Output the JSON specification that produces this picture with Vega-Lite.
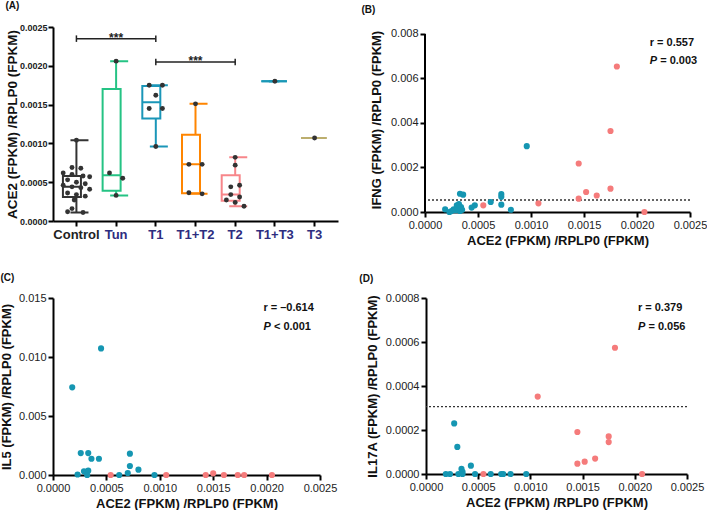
{
  "$schema": "https://vega.github.io/schema/vega-lite/v6.json",
  "background": "white",
  "padding": {"left": 0, "top": 0, "right": 0, "bottom": 0},
  "config": {
    "view": {"stroke": null},
    "font": "Liberation Sans",
    "axis": {"domainColor": "#000", "domainWidth": 2, "tickColor": "#000", "tickWidth": 2, "tickSize": 5, "grid": false, "labelFont": "Liberation Sans", "titleFont": "Liberation Sans", "labelColor": "#222", "titleColor": "#111", "titleFontWeight": "bold", "titleFontSize": 13, "labelFontSize": 11, "labelPadding": 2, "zindex": 1, "labelFlush": false, "labelOverlap": false},
    "title": {"anchor": "start", "frame": "bounds", "fontSize": 10, "fontWeight": "bold", "color": "#111", "font": "Liberation Sans"}
  },
  "datasets": {
    "box": [
      {"g": "Control", "lo": 0.00011, "q1": 0.00031, "med": 0.00044, "q3": 0.00058, "hi": 0.00104},
      {"g": "Tun", "lo": 0.00033, "q1": 0.00039, "med": 0.00059, "q3": 0.0017, "hi": 0.00206},
      {"g": "T1", "lo": 0.00096, "q1": 0.00132, "med": 0.00153, "q3": 0.00174, "hi": 0.00175},
      {"g": "T1+T2", "lo": 0.00035, "q1": 0.000357, "med": 0.00073, "q3": 0.00111, "hi": 0.00151},
      {"g": "T2", "lo": 0.00019, "q1": 0.00026, "med": 0.00034, "q3": 0.00059, "hi": 0.00082},
      {"g": "T1+T3", "lo": 0.0018, "q1": 0.0018, "med": 0.0018, "q3": 0.0018, "hi": 0.0018},
      {"g": "T3", "lo": 0.00107, "q1": 0.00107, "med": 0.00107, "q3": 0.00107, "hi": 0.00107}
    ],
    "dots": [
      {"g": "Control", "v": 0.00104, "k": 0},
      {"g": "Control", "v": 0.00069, "k": -1},
      {"g": "Control", "v": 0.00068, "k": 1},
      {"g": "Control", "v": 0.00062, "k": -3},
      {"g": "Control", "v": 0.0006, "k": -1},
      {"g": "Control", "v": 0.00058, "k": 1.5},
      {"g": "Control", "v": 0.00057, "k": 3},
      {"g": "Control", "v": 0.00053, "k": -2},
      {"g": "Control", "v": 0.0005, "k": 0},
      {"g": "Control", "v": 0.00048, "k": 2},
      {"g": "Control", "v": 0.00046, "k": -3},
      {"g": "Control", "v": 0.00044, "k": -1},
      {"g": "Control", "v": 0.00043, "k": 1},
      {"g": "Control", "v": 0.00041, "k": 3},
      {"g": "Control", "v": 0.00036, "k": -2},
      {"g": "Control", "v": 0.00034, "k": 0},
      {"g": "Control", "v": 0.00032, "k": 2},
      {"g": "Control", "v": 0.00027, "k": -0.5},
      {"g": "Control", "v": 0.00016, "k": -1},
      {"g": "Control", "v": 0.00012, "k": -2},
      {"g": "Control", "v": 0.00011, "k": 1.5},
      {"g": "Tun", "v": 0.00206, "k": 0},
      {"g": "Tun", "v": 0.00062, "k": -1.5},
      {"g": "Tun", "v": 0.00055, "k": 1.5},
      {"g": "Tun", "v": 0.00033, "k": 0},
      {"g": "T1", "v": 0.00175, "k": -1.5},
      {"g": "T1", "v": 0.00175, "k": 1.5},
      {"g": "T1", "v": 0.00162, "k": 0},
      {"g": "T1", "v": 0.00145, "k": -1.5},
      {"g": "T1", "v": 0.00145, "k": 1.5},
      {"g": "T1", "v": 0.00096, "k": 0},
      {"g": "T1+T2", "v": 0.00151, "k": 0},
      {"g": "T1+T2", "v": 0.00073, "k": -1.5},
      {"g": "T1+T2", "v": 0.00073, "k": 1.5},
      {"g": "T1+T2", "v": 0.000365, "k": -1.5},
      {"g": "T1+T2", "v": 0.00035, "k": 1.5},
      {"g": "T2", "v": 0.00082, "k": 0},
      {"g": "T2", "v": 0.00072, "k": 0},
      {"g": "T2", "v": 0.00046, "k": 1},
      {"g": "T2", "v": 0.00044, "k": -1},
      {"g": "T2", "v": 0.00034, "k": -1},
      {"g": "T2", "v": 0.00031, "k": 1},
      {"g": "T2", "v": 0.00027, "k": -2},
      {"g": "T2", "v": 0.00024, "k": 0},
      {"g": "T2", "v": 0.00019, "k": 2},
      {"g": "T1+T3", "v": 0.0018, "k": 0},
      {"g": "T3", "v": 0.00107, "k": 0}
    ],
    "sig": [
      {"from": "Control", "to": "T1", "mid": "Tun", "y": 0.00235, "lo": 0.002308, "hi": 0.002392, "t": "***"},
      {"from": "T1", "to": "T2", "mid": "T1+T2", "y": 0.00205, "lo": 0.002008, "hi": 0.002092, "t": "***"}
    ],
    "ifng": [
      {"ace2": 0.00181, "val": 0.00654, "set": "2"},
      {"ace2": 0.00175, "val": 0.00364, "set": "2"},
      {"ace2": 0.00145, "val": 0.00218, "set": "2"},
      {"ace2": 0.00175, "val": 0.00105, "set": "2"},
      {"ace2": 0.00152, "val": 0.0009, "set": "2"},
      {"ace2": 0.00162, "val": 0.00074, "set": "2"},
      {"ace2": 0.00145, "val": 0.0006, "set": "2"},
      {"ace2": 0.00107, "val": 0.00039, "set": "2"},
      {"ace2": 0.00055, "val": 0.0003, "set": "2"},
      {"ace2": 0.00207, "val": 0.0, "set": "2"},
      {"ace2": 0.00096, "val": 0.00296, "set": "1"},
      {"ace2": 0.00033, "val": 0.00082, "set": "1"},
      {"ace2": 0.00036, "val": 0.00078, "set": "1"},
      {"ace2": 0.00072, "val": 0.0008, "set": "1"},
      {"ace2": 0.00072, "val": 0.00068, "set": "1"},
      {"ace2": 0.00062, "val": 0.00045, "set": "1"},
      {"ace2": 0.00072, "val": 0.00033, "set": "1"},
      {"ace2": 0.00047, "val": 0.0003, "set": "1"},
      {"ace2": 0.00044, "val": 0.0002, "set": "1"},
      {"ace2": 0.00081, "val": 0.0001, "set": "1"},
      {"ace2": 0.00019, "val": 0.00012, "set": "1"},
      {"ace2": 0.00023, "val": 0.0, "set": "1"},
      {"ace2": 0.00027, "val": 0.00012, "set": "1"},
      {"ace2": 0.0003, "val": 0.0003, "set": "1"},
      {"ace2": 0.00032, "val": 0.00036, "set": "1"},
      {"ace2": 0.00034, "val": 0.00022, "set": "1"},
      {"ace2": 0.00033, "val": 0.00005, "set": "1"},
      {"ace2": 0.00029, "val": 0.00008, "set": "1"},
      {"ace2": 0.00035, "val": 0.0001, "set": "1"},
      {"ace2": 0.00025, "val": 0.00004, "set": "1"},
      {"ace2": 0.00031, "val": 0.00015, "set": "1"}
    ],
    "il5": [
      {"ace2": 0.00045, "val": 0.01073, "set": "1"},
      {"ace2": 0.00018, "val": 0.00743, "set": "1"},
      {"ace2": 0.00026, "val": 0.00186, "set": "1"},
      {"ace2": 0.00033, "val": 0.00186, "set": "1"},
      {"ace2": 0.00036, "val": 0.00138, "set": "1"},
      {"ace2": 0.00043, "val": 0.00138, "set": "1"},
      {"ace2": 0.00072, "val": 0.00181, "set": "1"},
      {"ace2": 0.00072, "val": 0.00076, "set": "1"},
      {"ace2": 0.0008, "val": 0.00045, "set": "1"},
      {"ace2": 0.00029, "val": 0.00031, "set": "1"},
      {"ace2": 0.00033, "val": 0.00037, "set": "1"},
      {"ace2": 0.00032, "val": 0.0, "set": "1"},
      {"ace2": 0.00023, "val": 0.00004, "set": "1"},
      {"ace2": 0.0007, "val": 0.00017, "set": "1"},
      {"ace2": 0.00062, "val": 0.0, "set": "1"},
      {"ace2": 0.00095, "val": 0.0, "set": "1"},
      {"ace2": 0.00054, "val": 0.0, "set": "2"},
      {"ace2": 0.00106, "val": 0.0, "set": "2"},
      {"ace2": 0.00143, "val": 0.0, "set": "2"},
      {"ace2": 0.0015, "val": 0.00014, "set": "2"},
      {"ace2": 0.0016, "val": 0.0, "set": "2"},
      {"ace2": 0.00173, "val": 0.0, "set": "2"},
      {"ace2": 0.00179, "val": 0.0, "set": "2"},
      {"ace2": 0.00205, "val": 0.0, "set": "2"}
    ],
    "il17a": [
      {"ace2": 0.00181, "val": 0.000574, "set": "2"},
      {"ace2": 0.00107, "val": 0.000352, "set": "2"},
      {"ace2": 0.00145, "val": 0.000191, "set": "2"},
      {"ace2": 0.00175, "val": 0.000171, "set": "2"},
      {"ace2": 0.00175, "val": 0.000145, "set": "2"},
      {"ace2": 0.00162, "val": 0.00007, "set": "2"},
      {"ace2": 0.00152, "val": 0.000056, "set": "2"},
      {"ace2": 0.00145, "val": 0.000047, "set": "2"},
      {"ace2": 0.00055, "val": 0.0, "set": "2"},
      {"ace2": 0.00207, "val": 0.0, "set": "2"},
      {"ace2": 0.00027, "val": 0.00023, "set": "1"},
      {"ace2": 0.0003, "val": 0.000123, "set": "1"},
      {"ace2": 0.00034, "val": 0.000023, "set": "1"},
      {"ace2": 0.00043, "val": 0.000038, "set": "1"},
      {"ace2": 0.00035, "val": 0.00001, "set": "1"},
      {"ace2": 0.00019, "val": 0.0, "set": "1"},
      {"ace2": 0.00023, "val": 0.0, "set": "1"},
      {"ace2": 0.00031, "val": 0.0, "set": "1"},
      {"ace2": 0.00035, "val": 0.0, "set": "1"},
      {"ace2": 0.00047, "val": 0.0, "set": "1"},
      {"ace2": 0.00062, "val": 0.0, "set": "1"},
      {"ace2": 0.00072, "val": 0.0, "set": "1"},
      {"ace2": 0.00074, "val": 0.0, "set": "1"},
      {"ace2": 0.00081, "val": 0.0, "set": "1"},
      {"ace2": 0.00096, "val": 0.0, "set": "1"}
    ],
    "annB": [{"x": 0.00212, "yr": 0.0076, "yp": 0.00677, "r": "r = 0.557", "p": "= 0.003", "thr": 0.00054, "x0": 0, "y0": 0, "y1": 0.008}],
    "annC": [{"x": 0.00197, "yr": 0.01415, "yp": 0.01254, "r": "r = –0.614", "p": "< 0.001"}],
    "annD": [{"x": 0.00203, "yr": 0.000753, "yp": 0.000666, "r": "r = 0.379", "p": "= 0.056", "thr": 0.000306}]
  },
  "spacing": 26,
  "vconcat": [
    {
      "columns": 2,
      "align": "none",
      "spacing": 23,
      "concat": [
        {
          "title": {"text": "(A)", "offset": 9.5, "dy": -3},
          "width": 285,
          "height": 194,
          "encoding": {
            "x": {"field": "g", "type": "nominal", "sort": ["Control", "Tun", "T1", "T1+T2", "T2", "T1+T3", "T3"],
              "scale": {"domain": ["Control", "Tun", "T1", "T1+T2", "T2", "T1+T3", "T3"], "paddingInner": 0, "paddingOuter": 0.09},
              "axis": {"title": null, "labelAngle": 0, "labelFontSize": 13, "labelFontWeight": "bold", "labelPadding": 2,
                "labelColor": {"condition": {"test": "datum.value === 'Control'", "value": "#222222"}, "value": "#2e2d7f"}}}
          },
          "layer": [
            {
              "data": {"name": "box"},
              "mark": {"type": "rule", "strokeWidth": 2},
              "encoding": {
                "y": {"field": "lo", "type": "quantitative", "scale": {"domain": [0, 0.0025], "nice": false},
                  "axis": {"title": "ACE2 (FPKM) /RPLP0 (FPKM)", "values": [0, 0.0005, 0.001, 0.0015, 0.002, 0.0025], "format": ".4f", "labelFontSize": 9, "labelFontWeight": "bold", "labelPadding": 1, "titlePadding": 0, "titleFontSize": 13.5, "labelOverlap": false, "labelFlush": false}},
                "y2": {"field": "hi"},
                "stroke": {"field": "g", "type": "nominal", "legend": null,
                  "scale": {"domain": ["Control", "Tun", "T1", "T1+T2", "T2", "T1+T3", "T3"], "range": ["#333333", "#25c384", "#1a96b8", "#ff8500", "#f7868a", "#1a98b6", "#bcae6e"]}}
              }
            },
            {
              "data": {"name": "box"},
              "mark": {"type": "bar", "fill": "white", "strokeWidth": 2, "width": {"band": 0.68}},
              "encoding": {
                "y": {"field": "q1", "type": "quantitative",
                  "axis": {"title": "ACE2 (FPKM) /RPLP0 (FPKM)", "values": [0, 0.0005, 0.001, 0.0015, 0.002, 0.0025], "format": ".4f", "labelFontSize": 9, "labelFontWeight": "bold", "labelPadding": 1, "titlePadding": 0, "titleFontSize": 13.5, "labelOverlap": false, "labelFlush": false}},
                "y2": {"field": "q3"},
                "stroke": {"field": "g", "type": "nominal", "legend": null}
              }
            },
            {
              "data": {"name": "box"},
              "mark": {"type": "bar", "fill": "transparent", "strokeWidth": 2, "width": {"band": 0.68}},
              "encoding": {
                "y": {"field": "med", "type": "quantitative",
                  "axis": {"title": "ACE2 (FPKM) /RPLP0 (FPKM)", "values": [0, 0.0005, 0.001, 0.0015, 0.002, 0.0025], "format": ".4f", "labelFontSize": 9, "labelFontWeight": "bold", "labelPadding": 1, "titlePadding": 0, "titleFontSize": 13.5, "labelOverlap": false, "labelFlush": false}},
                "y2": {"field": "med"},
                "stroke": {"field": "g", "type": "nominal", "legend": null}
              }
            },
            {
              "data": {"name": "box"},
              "mark": {"type": "bar", "fill": "transparent", "strokeWidth": 2, "width": {"band": 0.3}},
              "encoding": {
                "y": {"field": "hi", "type": "quantitative",
                  "axis": {"title": "ACE2 (FPKM) /RPLP0 (FPKM)", "values": [0, 0.0005, 0.001, 0.0015, 0.002, 0.0025], "format": ".4f", "labelFontSize": 9, "labelFontWeight": "bold", "labelPadding": 1, "titlePadding": 0, "titleFontSize": 13.5, "labelOverlap": false, "labelFlush": false}},
                "y2": {"field": "hi"},
                "stroke": {"field": "g", "type": "nominal", "legend": null}
              }
            },
            {
              "data": {"name": "box"},
              "mark": {"type": "bar", "fill": "transparent", "strokeWidth": 2, "width": {"band": 0.3}},
              "encoding": {
                "y": {"field": "lo", "type": "quantitative",
                  "axis": {"title": "ACE2 (FPKM) /RPLP0 (FPKM)", "values": [0, 0.0005, 0.001, 0.0015, 0.002, 0.0025], "format": ".4f", "labelFontSize": 9, "labelFontWeight": "bold", "labelPadding": 1, "titlePadding": 0, "titleFontSize": 13.5, "labelOverlap": false, "labelFlush": false}},
                "y2": {"field": "lo"},
                "stroke": {"field": "g", "type": "nominal", "legend": null}
              }
            },
            {
              "data": {"name": "dots"},
              "mark": {"type": "circle", "size": 24, "opacity": 1, "color": "#333333"},
              "encoding": {
                "y": {"field": "v", "type": "quantitative",
                  "axis": {"title": "ACE2 (FPKM) /RPLP0 (FPKM)", "values": [0, 0.0005, 0.001, 0.0015, 0.002, 0.0025], "format": ".4f", "labelFontSize": 9, "labelFontWeight": "bold", "labelPadding": 1, "titlePadding": 0, "titleFontSize": 13.5, "labelOverlap": false, "labelFlush": false}},
                "xOffset": {"field": "k", "type": "quantitative", "scale": {"domain": [-4.5, 4.5]}}
              }
            },
            {
              "data": {"name": "sig"},
              "mark": {"type": "rule", "strokeWidth": 1.5, "color": "#222"},
              "encoding": {
                "x": {"field": "from", "type": "nominal"},
                "x2": {"field": "to"},
                "y": {"field": "y", "type": "quantitative",
                  "axis": {"title": "ACE2 (FPKM) /RPLP0 (FPKM)", "values": [0, 0.0005, 0.001, 0.0015, 0.002, 0.0025], "format": ".4f", "labelFontSize": 9, "labelFontWeight": "bold", "labelPadding": 1, "titlePadding": 0, "titleFontSize": 13.5, "labelOverlap": false, "labelFlush": false}}
              }
            },
            {
              "data": {"name": "sig"},
              "mark": {"type": "rule", "strokeWidth": 1.5, "color": "#222"},
              "encoding": {
                "x": {"field": "from", "type": "nominal"},
                "y": {"field": "lo", "type": "quantitative",
                  "axis": {"title": "ACE2 (FPKM) /RPLP0 (FPKM)", "values": [0, 0.0005, 0.001, 0.0015, 0.002, 0.0025], "format": ".4f", "labelFontSize": 9, "labelFontWeight": "bold", "labelPadding": 1, "titlePadding": 0, "titleFontSize": 13.5, "labelOverlap": false, "labelFlush": false}},
                "y2": {"field": "hi"}
              }
            },
            {
              "data": {"name": "sig"},
              "mark": {"type": "rule", "strokeWidth": 1.5, "color": "#222"},
              "encoding": {
                "x": {"field": "to", "type": "nominal"},
                "y": {"field": "lo", "type": "quantitative",
                  "axis": {"title": "ACE2 (FPKM) /RPLP0 (FPKM)", "values": [0, 0.0005, 0.001, 0.0015, 0.002, 0.0025], "format": ".4f", "labelFontSize": 9, "labelFontWeight": "bold", "labelPadding": 1, "titlePadding": 0, "titleFontSize": 13.5, "labelOverlap": false, "labelFlush": false}},
                "y2": {"field": "hi"}
              }
            },
            {
              "data": {"name": "sig"},
              "mark": {"type": "text", "fontSize": 12, "fontWeight": "bold", "baseline": "alphabetic", "dy": 3, "color": "#222"},
              "encoding": {
                "x": {"field": "mid", "type": "nominal"},
                "y": {"field": "y", "type": "quantitative",
                  "axis": {"title": "ACE2 (FPKM) /RPLP0 (FPKM)", "values": [0, 0.0005, 0.001, 0.0015, 0.002, 0.0025], "format": ".4f", "labelFontSize": 9, "labelFontWeight": "bold", "labelPadding": 1, "titlePadding": 0, "titleFontSize": 13.5, "labelOverlap": false, "labelFlush": false}},
                "text": {"field": "t"}
              }
            }
          ]
        },
        {
          "title": {"text": "(B)", "offset": 9.5, "dx": -9, "dy": -3},
          "width": 265,
          "height": 185,
          "encoding": {
            "x": {"field": "ace2", "type": "quantitative", "scale": {"domain": [0, 0.0025], "nice": false},
              "axis": {"title": "ACE2 (FPKM) /RPLP0 (FPKM)", "values": [0, 0.0005, 0.001, 0.0015, 0.002, 0.0025], "format": ".4f", "titlePadding": 4}},
            "y": {"field": "val", "type": "quantitative", "scale": {"domain": [0, 0.0083146], "nice": false},
              "axis": {"title": "IFNG (FPKM) /RPLP0 (FPKM)", "values": [0, 0.002, 0.004, 0.006, 0.008], "format": ".3f", "titlePadding": 7, "domain": false}}
          },
          "layer": [
            {
              "data": {"name": "annB"},
              "mark": {"type": "rule", "strokeDash": [2, 2], "strokeWidth": 1.3, "color": "#333"},
              "encoding": {"x": null, "y": {"field": "thr", "type": "quantitative"}}
            },
            {
              "data": {"name": "ifng"},
              "mark": {"type": "circle", "size": 38, "opacity": 1},
              "encoding": {
                "color": {"field": "set", "type": "nominal", "legend": null, "scale": {"domain": ["1", "2"], "range": ["#1596b2", "#f57b7b"]}}
              }
            },
            {
              "data": {"name": "annB"},
              "mark": {"type": "rule", "strokeWidth": 2, "color": "#000"},
              "encoding": {"x": {"field": "x0", "type": "quantitative"}, "y": {"field": "y0", "type": "quantitative"}, "y2": {"field": "y1"}}
            },
            {
              "data": {"name": "annB"},
              "mark": {"type": "text", "fontSize": 11, "fontWeight": "bold", "align": "left", "baseline": "middle", "color": "#111"},
              "encoding": {"x": {"field": "x", "type": "quantitative"}, "y": {"field": "yr", "type": "quantitative"}, "text": {"field": "r"}}
            },
            {
              "data": {"name": "annB"},
              "mark": {"type": "text", "fontSize": 11, "fontWeight": "bold", "fontStyle": "italic", "align": "left", "baseline": "middle", "color": "#111", "text": "P"},
              "encoding": {"x": {"field": "x", "type": "quantitative"}, "y": {"field": "yp", "type": "quantitative"}}
            },
            {
              "data": {"name": "annB"},
              "mark": {"type": "text", "fontSize": 11, "fontWeight": "bold", "align": "left", "baseline": "middle", "color": "#111", "dx": 10.5},
              "encoding": {"x": {"field": "x", "type": "quantitative"}, "y": {"field": "yp", "type": "quantitative"}, "text": {"field": "p"}}
            }
          ]
        }
      ]
    },
    {
      "columns": 2,
      "align": "none",
      "spacing": 22,
      "concat": [
        {
          "title": {"text": "(C)", "offset": 9},
          "width": 267,
          "height": 177,
          "encoding": {
            "x": {"field": "ace2", "type": "quantitative", "scale": {"domain": [0, 0.0025], "nice": false},
              "axis": {"title": "ACE2 (FPKM) /RPLP0 (FPKM)", "values": [0, 0.0005, 0.001, 0.0015, 0.002, 0.0025], "format": ".4f", "titlePadding": 4}},
            "y": {"field": "val", "type": "quantitative", "scale": {"domain": [0, 0.015], "nice": false},
              "axis": {"title": "IL5 (FPKM) /RPLP0 (FPKM)", "values": [0, 0.005, 0.01, 0.015], "format": ".3f", "titlePadding": 5}}
          },
          "layer": [
            {
              "data": {"name": "il5"},
              "mark": {"type": "circle", "size": 38, "opacity": 1},
              "encoding": {
                "color": {"field": "set", "type": "nominal", "legend": null, "scale": {"domain": ["1", "2"], "range": ["#1596b2", "#f57b7b"]}}
              }
            },
            {
              "data": {"name": "annC"},
              "mark": {"type": "text", "fontSize": 11, "fontWeight": "bold", "align": "left", "baseline": "middle", "color": "#111"},
              "encoding": {"x": {"field": "x", "type": "quantitative"}, "y": {"field": "yr", "type": "quantitative"}, "text": {"field": "r"}}
            },
            {
              "data": {"name": "annC"},
              "mark": {"type": "text", "fontSize": 11, "fontWeight": "bold", "fontStyle": "italic", "align": "left", "baseline": "middle", "color": "#111", "text": "P"},
              "encoding": {"x": {"field": "x", "type": "quantitative"}, "y": {"field": "yp", "type": "quantitative"}}
            },
            {
              "data": {"name": "annC"},
              "mark": {"type": "text", "fontSize": 11, "fontWeight": "bold", "align": "left", "baseline": "middle", "color": "#111", "dx": 10.5},
              "encoding": {"x": {"field": "x", "type": "quantitative"}, "y": {"field": "yp", "type": "quantitative"}, "text": {"field": "p"}}
            }
          ]
        },
        {
          "title": {"text": "(D)", "offset": 8, "dx": -7},
          "width": 261,
          "height": 176,
          "encoding": {
            "x": {"field": "ace2", "type": "quantitative", "scale": {"domain": [0, 0.0025], "nice": false},
              "axis": {"title": "ACE2 (FPKM) /RPLP0 (FPKM)", "values": [0, 0.0005, 0.001, 0.0015, 0.002, 0.0025], "format": ".4f", "titlePadding": 4}},
            "y": {"field": "val", "type": "quantitative", "scale": {"domain": [0, 0.0008], "nice": false},
              "axis": {"title": "IL17A (FPKM) /RPLP0 (FPKM)", "values": [0, 0.0002, 0.0004, 0.0006, 0.0008], "format": ".4f", "titlePadding": 6}}
          },
          "layer": [
            {
              "data": {"name": "annD"},
              "mark": {"type": "rule", "strokeDash": [2, 2], "strokeWidth": 1.3, "color": "#333"},
              "encoding": {"x": null, "y": {"field": "thr", "type": "quantitative"}}
            },
            {
              "data": {"name": "il17a"},
              "mark": {"type": "circle", "size": 38, "opacity": 1},
              "encoding": {
                "color": {"field": "set", "type": "nominal", "legend": null, "scale": {"domain": ["1", "2"], "range": ["#1596b2", "#f57b7b"]}}
              }
            },
            {
              "data": {"name": "annD"},
              "mark": {"type": "text", "fontSize": 11, "fontWeight": "bold", "align": "left", "baseline": "middle", "color": "#111"},
              "encoding": {"x": {"field": "x", "type": "quantitative"}, "y": {"field": "yr", "type": "quantitative"}, "text": {"field": "r"}}
            },
            {
              "data": {"name": "annD"},
              "mark": {"type": "text", "fontSize": 11, "fontWeight": "bold", "fontStyle": "italic", "align": "left", "baseline": "middle", "color": "#111", "text": "P"},
              "encoding": {"x": {"field": "x", "type": "quantitative"}, "y": {"field": "yp", "type": "quantitative"}}
            },
            {
              "data": {"name": "annD"},
              "mark": {"type": "text", "fontSize": 11, "fontWeight": "bold", "align": "left", "baseline": "middle", "color": "#111", "dx": 10.5},
              "encoding": {"x": {"field": "x", "type": "quantitative"}, "y": {"field": "yp", "type": "quantitative"}, "text": {"field": "p"}}
            }
          ]
        }
      ]
    }
  ]
}
